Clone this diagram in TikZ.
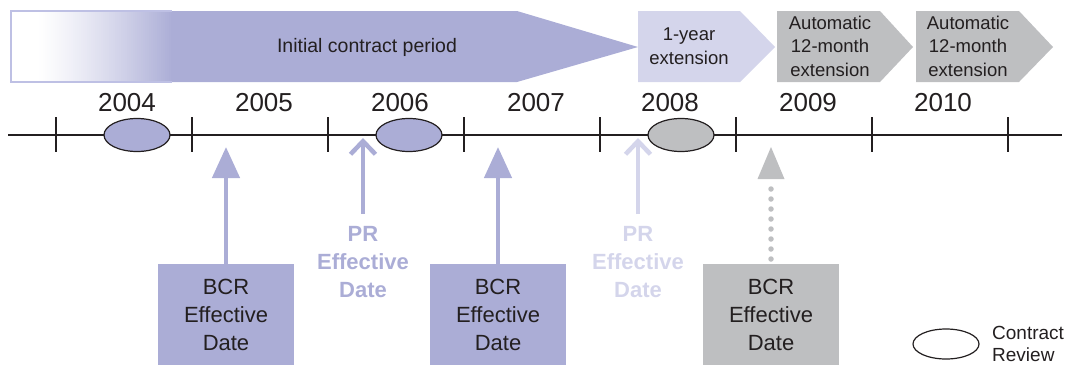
\documentclass[tikz,border=0pt]{standalone}
\usepackage{fontspec}
\setmainfont{Liberation Sans}
\usetikzlibrary{arrows.meta,shapes.geometric}
\definecolor{cpurple}{RGB}{171,173,214}
\definecolor{clight}{RGB}{212,213,235}
\definecolor{cgrey}{RGB}{190,191,193}
\definecolor{cdark}{RGB}{35,31,32}
\definecolor{cborder}{RGB}{190,192,228}
\begin{document}
\begin{tikzpicture}[x=1pt,y=-1pt,
  txt/.style={text=cdark,align=center,inner sep=0pt},
  band/.style={txt,font=\fontsize{18.5}{23.5}\selectfont},
  year/.style={txt,font=\fontsize{26}{30}\selectfont},
  bcrbox/.style={minimum width=136pt,minimum height=101pt,inner sep=0pt,anchor=north,
     font=\fontsize{22}{28}\selectfont,text=cdark,align=center},
  prlabel/.style={font=\bfseries\fontsize{22}{28}\selectfont,align=center,inner sep=0pt},
  review/.style={ellipse,draw=cdark,line width=1.2pt,minimum width=66pt,minimum height=33pt,inner sep=0pt},
  tick/.style={cdark,line width=1.2pt},
  solidarrow/.style={line width=4.5pt,-{Triangle[length=31pt,width=27pt]}},
  openarrow/.style={line width=4.5pt,-{Straight Barb[length=13pt,width=25pt]}},
]
\useasboundingbox (0,0) rectangle (1071,365);

% top band
\fill[white] (11,11) rectangle (37,82);
\foreach \i in {0,...,67} {
  \pgfmathsetmacro\p{100*((\i+0.5)/68)^1.25}
  \fill[cpurple!\p!white] ({37+2*\i},11) rectangle ({39.4+2*\i},82);
}
\fill[cpurple] (171.5,11) -- (517,11) -- (638,47) -- (517,82) -- (171.5,82) -- cycle;
\draw[cborder,line width=1.2pt] (172,11) -- (11,11) -- (11,82) -- (172,82);
\node[txt,font=\fontsize{19.5}{23}\selectfont] (initial) at (367,47) {Initial contract period};

\fill[clight] (638,11) -- (740,11) -- (775,47) -- (740,82) -- (638,82) -- cycle;
\node[band] (ext1) at (689,46) {1-year\\extension};
\fill[cgrey] (777,11) -- (880,11) -- (913,47) -- (880,82) -- (777,82) -- cycle;
\node[band] (ext2) at (830,46) {Automatic\\12-month\\extension};
\fill[cgrey] (916,11) -- (1019,11) -- (1053,47) -- (1019,82) -- (916,82) -- cycle;
\node[band] (ext3) at (968,46) {Automatic\\12-month\\extension};

% timeline
\coordinate (tl) at (8,135);
\coordinate (tr) at (1062,135);
\draw[tick] (tl) -- (tr);
\foreach \x in {56,192,328,464,600,736,872,1008}
  \draw[tick] (\x,117) -- (\x,152);
\foreach \y/\x in {2004/127,2005/264,2006/400,2007/536,2008/670,2009/808,2010/943}
  \node[year] (y\y) at (\x,103) {\y};

\node[review,fill=cpurple] (r1) at (137,135) {};
\node[review,fill=cpurple] (r2) at (409,135) {};
\node[review,fill=cgrey] (r3) at (681,135) {};

% boxes
\node[bcrbox,fill=cpurple] (b1) at (226,264) {BCR\\Effective\\Date};
\node[bcrbox,fill=cpurple] (b2) at (498,264) {BCR\\Effective\\Date};
\node[bcrbox,fill=cgrey] (b3) at (771,264) {BCR\\Effective\\Date};

\node[prlabel,text=cpurple] (p1) at (363,262) {PR\\Effective\\Date};
\node[prlabel,text=clight] (p2) at (638,262) {PR\\Effective\\Date};

\coordinate (t1) at (226,147);
\coordinate (t2) at (498,147);
\coordinate (t3) at (771,147);
\coordinate (q1) at (363,138);
\coordinate (q2) at (638,138);

\draw[solidarrow,cpurple] (b1.north) -- (t1);
\draw[solidarrow,cpurple] (b2.north) -- (t2);
\draw[openarrow,cpurple] (p1.north) ++(0,-12) coordinate (pb1) (pb1) -- (q1);
\draw[openarrow,clight] (p2.north) ++(0,-12) coordinate (pb2) (pb2) -- (q2);
\draw[cgrey,line width=5.5pt,line cap=round,dash pattern=on 0pt off 10pt] (b3.north) ++(0,-5) -- (771,180);
\fill[cgrey] (t3) -- (784.5,179) -- (757.5,179) -- cycle;

% legend
\node[review,fill=white,minimum height=30pt] (leg) at (946,344) {};
\node[txt,font=\fontsize{19}{22}\selectfont,align=left,anchor=west] (legt) at (992,344) {Contract\\Review};
\end{tikzpicture}
\end{document}
